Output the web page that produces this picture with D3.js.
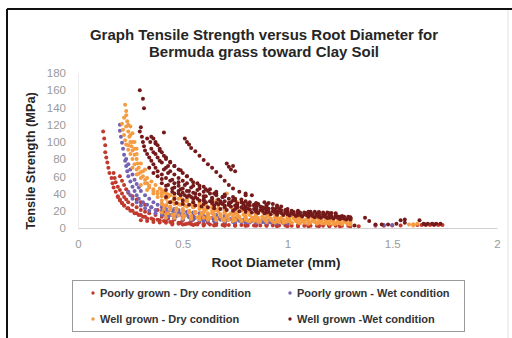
<!DOCTYPE html>
<html>
<head>
<meta charset="utf-8">
<script src="https://cdn.jsdelivr.net/npm/d3@7"></script>
<style>
  html, body { margin: 0; padding: 0; background: #fff; }
  svg { display: block; }
</style>
</head>
<body>
<svg id="chart" width="512" height="338"></svg>
<script>
// tick labels
var xTicks = [0, 0.5, 1, 1.5, 2];
var yTicks = [0, 20, 40, 60, 80, 100, 120, 140, 160, 180];

var seriesNames = [
  "Poorly grown - Dry condition",
  "Poorly grown - Wet condition",
  "Well grown - Dry condition",
  "Well grown -Wet condition"
];

// [root diameter (mm), tensile strength (MPa)]
var poorlyDry = [
  [0.12,112],[0.125,104],[0.13,96],[0.13,88],[0.135,82],[0.14,76],[0.145,70],[0.15,64],[0.16,58],[0.165,52],[0.17,47],[0.18,42],[0.19,37],[0.2,33],[0.21,29],[0.22,26],[0.235,23],[0.25,20],[0.27,17],[0.29,15],[0.31,13],[0.33,11],[0.36,10],[0.39,9],[0.42,8],[0.45,7],[0.49,6],[0.53,5.5],[0.57,5],
  [0.17,64],[0.175,58],[0.18,53],[0.19,48],[0.2,44],[0.21,40],[0.22,36],[0.23,33],[0.24,30],[0.26,27],[0.28,24],[0.3,21],[0.32,19],[0.34,17],[0.37,15],[0.4,13],[0.43,11],[0.46,10],[0.5,9],[0.54,8],[0.58,7],[0.62,6],[0.66,5.5],[0.7,5],
  [0.19,36],[0.2,32],[0.21,29],[0.22,26],[0.24,23],[0.26,20],[0.28,17],[0.3,15],[0.32,13],[0.35,11],[0.38,9.5],[0.41,8],[0.44,7],[0.48,6],[0.52,5],[0.56,4.5],[0.6,4],[0.65,3.5],[0.7,3.2],[0.75,3],[0.8,3],
  [0.2,60],[0.21,55],[0.22,50],[0.23,45],[0.24,41],[0.26,37],[0.28,33],[0.3,30],[0.32,27],[0.35,24],[0.38,21],[0.41,18],[0.45,15],[0.5,12],[0.55,10],[0.6,9],[0.65,8],[0.7,7],[0.75,6.5],[0.8,6],
  [0.3,9],[0.33,8],[0.36,7],[0.39,6.5],[0.42,6],[0.45,5.5],[0.48,5],[0.51,4.5],[0.54,4.5],[0.57,4],[0.6,4],[0.63,4],[0.66,3.5],[0.69,3.5],[0.72,3.5],[0.75,3.5],[0.78,3.5],[0.81,3],[0.84,3],[0.87,3],[0.9,3],[0.93,3],[0.96,3],[0.99,3],[1.02,2.5],[1.05,2.5],[1.08,2.5],[1.11,2.5],[1.14,2.5],[1.17,2.5],[1.2,2.5],[1.23,2.5],[1.26,2.5],[1.29,2.5],
  [0.45,4],[0.5,4],[0.55,3.5],[0.6,3],[0.65,3],[0.7,2.5],[0.75,2.5],[0.8,2.5],[0.85,2.5],[0.9,2.5],[0.95,2],[1.0,2],[1.05,2],[1.1,2],[1.15,2],[1.2,2],[1.25,2],[1.3,2],
  [0.85,4],[0.9,4],[0.95,3.5],[1.0,3.5],[1.05,3],[1.1,3],[1.15,3],[1.2,3],[1.25,3],[0.6,5],[0.7,4.5],[0.8,4.5],[0.9,5],[1.0,5],[1.1,4.5],[1.2,4],
  [1.34,2],[1.42,2.5],[1.46,2.5],[1.5,3],[1.54,3],[1.62,3.5],[1.64,3.5],[1.66,3.5],[1.68,3.5],[1.7,3.5],[1.72,3.5],[1.74,3.5],[1.65,4.5],[1.69,4.5],[1.73,4.5]
];

var poorlyWet = [
  [0.2,120],[0.2,113],[0.205,106],[0.21,99],[0.215,92],[0.22,85],[0.225,78],[0.23,72],[0.235,66],[0.24,60],[0.25,54],[0.26,48],[0.27,43],[0.28,38],[0.29,34],[0.31,30],[0.33,27],[0.35,24],[0.37,21],[0.4,18],[0.43,16],[0.46,14],[0.5,13],[0.55,12],[0.6,11],[0.65,10],[0.7,9.5],[0.75,9],[0.8,8.5],[0.85,8],[0.9,7.5],[0.95,7],[1.0,7],
  [0.23,80],[0.24,74],[0.25,68],[0.26,62],[0.27,56],[0.28,51],[0.29,47],[0.3,43],[0.32,38],[0.34,34],[0.36,30],[0.38,27],[0.4,24],[0.42,22],[0.45,20],[0.48,18],[0.5,17],[0.55,15],[0.6,14],[0.65,13],[0.7,12],[0.75,11],[0.8,10],[0.9,9],[1.0,8.5],
  [0.24,42],[0.25,38],[0.26,34],[0.28,30],[0.3,26],[0.32,23],[0.34,20],[0.37,17],[0.4,15],[0.43,13],[0.46,12],[0.5,11],[0.55,10],[0.6,9],[0.65,8],[0.7,7.5],[0.75,7],[0.8,6.5],[0.85,6],[0.9,6],[0.95,5.5],[1.0,5.5],
  [0.4,28],[0.42,26],[0.44,24],[0.46,22],[0.48,21],[0.5,20],[0.52,19],[0.55,18],[0.58,17],[0.62,16],[0.66,15],[0.7,14],[0.6,8],[0.62,9],[0.68,10],[0.72,10],[0.78,9],[0.82,8],[0.88,7],[0.92,6.5],
  [0.4,20],[0.43,18.5],[0.46,17],[0.49,16],[0.52,15],[0.55,14],[0.58,13],[0.61,12.5],[0.64,12],[0.67,11.5],[0.7,11],[0.73,10.5],[0.76,10],[0.79,9.5],[0.82,9],[0.85,9],[0.88,8.5],[0.91,8],[0.94,8],[0.97,7.5],[1.0,7.5],
  [0.42,12],[0.46,11],[0.5,10],[0.54,9.5],[0.58,9],[0.62,8.5],[0.66,8],[0.7,7.5],[0.74,7],[0.78,7],[0.82,6.5],[0.86,6.5],[0.9,6],[0.94,6],[0.98,5.5],
  [0.41,16],[0.44,15],[0.47,14],[0.5,13.5],[0.53,12.5],[0.56,12],[0.59,11.5],[0.62,11],[0.65,10.5],[0.68,10],[0.71,9.5],[0.74,9],[0.77,8.5],[0.8,8],[0.83,8],[0.86,7.5],[0.89,7],[0.92,7],[0.95,6.5],[0.98,6.5],
  [1.42,3.5],[1.46,3.5],[1.5,3.5]
];

var wellDry = [
  [0.225,143],[0.23,131],[0.235,124],[0.23,118],[0.24,112],[0.245,106],[0.25,100],[0.255,95],[0.26,90],[0.27,85],[0.28,80],[0.285,75],[0.29,70],[0.3,65],[0.31,60],[0.32,56],[0.33,52],[0.34,49],[0.36,45],[0.38,42],[0.4,39],[0.43,36],[0.46,33],[0.5,30],[0.54,27],[0.58,25],[0.62,23],[0.66,21],[0.7,20],[0.75,18],[0.8,17],[0.85,16],[0.9,15],[0.95,14],[1.0,13],[1.05,12],[1.1,11],[1.15,10.5],[1.2,10],[1.25,9.5],[1.3,9],
  [0.21,121],[0.215,114],[0.22,108],[0.225,102],[0.23,97],[0.24,91],[0.25,86],[0.26,80],[0.27,74],[0.28,68],[0.29,63],[0.3,58],[0.32,52],[0.34,47],[0.36,43],[0.38,40],[0.4,37],[0.42,34],[0.45,31],[0.48,28],[0.51,26],[0.55,24],[0.6,22],[0.65,20],[0.7,18],[0.75,17],[0.8,16],[0.85,15],[0.9,14],[0.95,13],[1.0,12],[1.1,11],[1.2,10],
  [0.39,46],[0.4,44],[0.41,42],[0.42,40],[0.44,38],[0.46,36],[0.48,34],[0.5,33],[0.52,31],[0.55,29],[0.58,27],[0.61,26],[0.64,24],[0.67,23],[0.7,22],[0.74,21],[0.78,20],[0.82,19],[0.86,18],[0.9,17],[0.94,16],[0.98,15],[1.02,14],[1.06,13],[1.1,12.5],[1.14,12],[1.18,11.5],[1.22,11],[1.26,10.5],[1.3,10],
  [0.4,28],[0.42,26],[0.44,25],[0.47,23],[0.5,22],[0.53,20],[0.56,19],[0.6,18],[0.64,17],[0.68,16],[0.72,15],[0.76,14],[0.8,13],[0.84,12.5],[0.88,12],[0.92,11],[0.96,10.5],[1.0,10],[1.04,9.5],[1.08,9],[1.12,8.5],[1.16,8],[1.2,7.5],[1.24,7],[1.28,7],[1.3,6.5],
  [0.4,18],[0.43,17],[0.46,16],[0.5,15],[0.54,14],[0.58,13],[0.62,12],[0.66,11],[0.7,10.5],[0.75,10],[0.8,9.5],[0.85,9],[0.9,8.5],[0.95,8],[1.0,7.5],[1.05,7],[1.1,6.5],[1.15,6],[1.2,6],[1.25,5.5],[1.3,5],
  [0.4,32],[0.43,30],[0.46,28],[0.49,27],[0.52,25],[0.55,24],[0.58,22],[0.61,21],[0.64,20],[0.67,19],[0.7,18],[0.73,17],[0.76,16],[0.79,15.5],[0.82,15],[0.85,14],[0.88,13.5],[0.91,13],[0.94,12.5],[0.97,12],[1.0,11.5],[1.03,11],[1.06,10.5],[1.09,10],[1.12,9.5],[1.15,9],[1.18,9],[1.21,8.5],[1.24,8],[1.27,8],[1.3,7.5],
  [0.41,22],[0.44,21],[0.47,20],[0.5,19],[0.53,18],[0.56,17],[0.59,16],[0.62,15],[0.65,14],[0.68,13.5],[0.71,13],[0.74,12],[0.77,11.5],[0.8,11],[0.83,10.5],[0.86,10],[0.89,10],[0.92,9.5],[0.95,9],[0.98,8.5],[1.01,8.5],[1.04,8],[1.07,8],[1.1,7.5],[1.13,7],[1.16,7],[1.19,6.5],[1.22,6.5],[1.25,6],[1.28,6],
  [0.42,12],[0.46,11.5],[0.5,11],[0.54,10.5],[0.58,10],[0.62,9.5],[0.66,9],[0.7,8.5],[0.74,8],[0.78,8],[0.82,7.5],[0.86,7],[0.9,7],[0.94,6.5],[0.98,6],[1.02,6],[1.06,5.5],[1.1,5],[1.14,5],[1.18,5],[1.22,4.5],[1.26,4.5],[1.3,4],
  [0.4,41],[0.43,39],[0.46,37],[0.49,35],[0.52,33],[0.55,31.5],[0.58,30],[0.61,28.5],[0.64,27],[0.67,26],[0.7,25],[0.73,24],[0.76,23],[0.79,22],[0.82,21],[0.85,20],[0.88,19],[0.91,18.5],[0.94,18],[0.97,17],[1.0,16.5],[1.03,16],[1.06,15],[1.09,14.5],[1.12,14],[1.15,13.5],[1.18,13],[1.21,12.5],[1.24,12],[1.27,11.5],[1.3,11],
  [0.41,26],[0.44,24],[0.47,22],[0.5,21],[0.53,19.5],[0.56,18.5],[0.59,17.5],[0.62,17],[0.65,16],[0.68,15],[0.71,14.5],[0.74,14],[0.77,13],[0.8,12.5],[0.83,12],[0.86,11.5],[0.89,11],[0.92,10.5],[0.95,10],[0.98,10],[1.01,9.5],[1.04,9],[1.07,9],[1.1,8.5],[1.13,8],[1.16,8],[1.19,7.5],[1.22,7.5],[1.25,7],[1.28,7],
  [0.42,16],[0.45,15],[0.48,14.5],[0.51,14],[0.54,13],[0.57,12.5],[0.6,12],[0.63,11.5],[0.66,11],[0.69,10],[0.72,9.5],[0.75,9],[0.78,9],[0.81,8.5],[0.84,8],[0.87,8],[0.9,7.5],[0.93,7.5],[0.96,7],[0.99,7],[1.02,6.5],[1.05,6.5],[1.08,6],[1.11,6],[1.14,5.5],[1.17,5.5],[1.2,5],[1.23,5],[1.26,5],[1.29,4.5],
  [0.22,128],[0.23,136],[0.24,120],[0.25,108],[0.26,100],[0.24,96],[0.27,92],[0.28,86],[0.26,70],[0.28,62],[0.31,66],[0.33,58],[0.35,54],[0.37,50],[0.3,50],[0.33,44],[0.36,40],[0.38,36],
  [0.26,110],[0.27,100],[0.28,92],[0.25,118],[0.3,75],[0.32,68],[0.71,40],[0.76,30],[0.66,32],[0.6,35],
  [1.58,4],[1.6,4.5],[1.62,5],[1.6,3]
];

var wellWet = [
  [0.295,160],[0.31,150],[0.315,139],[0.3,117],[0.295,112],[0.305,106],[0.31,100],[0.315,95],[0.32,90],[0.33,86],[0.34,82],[0.35,78],[0.36,74],[0.37,70],[0.38,66],[0.4,62],[0.42,58],[0.44,55],[0.46,52],[0.48,49],[0.5,46],[0.53,43],[0.56,40],[0.6,37],[0.64,34],[0.68,31],[0.72,29],[0.76,27],[0.8,25],[0.85,23],[0.9,21],[0.95,19],[1.0,18],[1.05,17],[1.1,16],[1.15,15],[1.2,14],[1.25,13],[1.3,12],
  [0.33,104],[0.345,100],[0.36,104],[0.37,100],[0.38,96],[0.39,92],[0.4,88],[0.41,84],[0.42,80],[0.44,76],[0.46,72],[0.48,68],[0.5,64],[0.52,60],[0.54,56],[0.57,52],[0.6,48],[0.63,45],[0.66,42],[0.7,39],[0.74,36],[0.78,33],[0.82,30],[0.86,28],[0.9,26],[0.95,24],[1.0,22],[1.05,20],[1.1,19],[1.15,18],[1.2,17],
  [0.41,111],[0.51,104],[0.52,100],[0.53,97],[0.54,93],[0.56,89],[0.58,84],[0.6,79],[0.62,74],[0.64,70],[0.66,65],[0.68,60],[0.7,55],[0.72,50],[0.74,46],[0.77,42],[0.8,38],
  [0.35,106],[0.37,98],[0.39,90],[0.42,82],[0.44,77],[0.46,72],[0.49,67],[0.52,60],[0.55,53],[0.58,49],[0.61,45],[0.65,40],[0.69,36],[0.74,32],[0.79,29],[0.84,26],[0.89,23],[0.94,21],[0.99,19],
  [0.4,52],[0.42,49],[0.45,46],[0.48,43],[0.5,41],[0.53,38],[0.56,36],[0.6,33],[0.64,31],[0.68,29],[0.72,27],[0.76,25],[0.8,23],[0.85,21],[0.9,20],[0.95,18],[1.0,17],[1.05,16],[1.1,15],[1.15,14],[1.2,13],[1.25,12],[1.3,11],
  [0.42,36],[0.46,34],[0.5,32],[0.55,30],[0.6,28],[0.65,26],[0.7,24],[0.75,22],[0.8,21],[0.85,19],[0.9,18],[0.95,17],[1.0,16],[1.05,15],[1.1,14],[1.15,13],[1.2,12],[1.25,11],[1.3,10],
  [0.42,44],[0.45,42],[0.48,40],[0.51,38],[0.54,36],[0.57,34],[0.6,32],[0.63,31],[0.66,29],[0.69,28],[0.72,27],[0.75,26],[0.78,24],[0.81,23],[0.84,22],[0.87,21],[0.9,20],[0.93,19.5],[0.96,19],[0.99,18],[1.02,17.5],[1.05,17],[1.08,16],[1.11,15.5],[1.14,15],[1.17,14],[1.2,13.5],[1.23,13],[1.26,12],[1.29,11.5],
  [0.45,56],[0.48,53],[0.51,50],[0.54,47],[0.57,44],[0.6,42],[0.63,40],[0.66,38],[0.69,36],[0.72,34],[0.75,32],[0.78,30],[0.81,28],[0.84,27],[0.87,25],[0.9,24],[0.93,23],[0.96,22],[0.99,21],[1.02,20],[1.05,19],[1.08,18],[1.11,17],[1.14,16.5],[1.17,16],[1.2,15],[1.23,14.5],[1.26,14],[1.29,13],
  [0.44,30],[0.47,29],[0.5,28],[0.53,27],[0.56,26],[0.59,25],[0.62,24],[0.65,23],[0.68,22],[0.71,21],[0.74,20],[0.77,19.5],[0.8,19],[0.83,18],[0.86,17.5],[0.89,17],[0.92,16],[0.95,15.5],[0.98,15],[1.01,14.5],[1.04,14],[1.07,13.5],[1.1,13],[1.13,12.5],[1.16,12],[1.19,11.5],[1.22,11],[1.25,10.5],[1.28,10],
  [0.43,50],[0.46,47],[0.49,45],[0.52,43],[0.55,41],[0.58,39],[0.61,37],[0.64,35],[0.67,33],[0.7,31],[0.73,30],[0.76,28.5],[0.79,27],[0.82,26],[0.85,25],[0.88,24],[0.91,22.5],[0.94,21.5],[0.97,20.5],[1.0,19.5],[1.03,18.5],[1.06,18],[1.09,17],[1.12,16],[1.15,15.5],[1.18,15],[1.21,14],[1.24,13.5],[1.27,13],[1.3,12.5],
  [0.46,40],[0.49,38],[0.52,36],[0.55,34],[0.58,32],[0.61,30],[0.64,29],[0.67,27.5],[0.7,26],[0.73,25],[0.76,24],[0.79,22.5],[0.82,21.5],[0.85,20.5],[0.88,20],[0.91,19],[0.94,18],[0.97,17.5],[1.0,17],[1.03,16],[1.06,15.5],[1.09,15],[1.12,14],[1.15,13.5],[1.18,13],[1.21,12.5],[1.24,12],[1.27,11],[1.3,10.5],
  [0.36,88],[0.38,82],[0.4,76],[0.42,70],[0.44,66],[0.46,62],[0.48,58],[0.5,55],[0.52,52],[0.55,49],[0.58,46],[0.62,43],[0.66,40],[0.7,37],[0.75,34],[0.8,31],[0.85,29],[0.9,27],
  [0.38,60],[0.4,57],[0.41,68],[0.43,64],[0.36,64],[0.34,70],[0.35,92],[0.37,86],[0.39,78],[0.43,72],
  [0.71,75],[0.72,71],[0.74,72],[0.73,68],[0.75,66],[0.8,40],[0.83,38],[0.89,30],[0.91,29],[0.93,28],[0.95,26],[0.97,25],[1.11,19],[1.13,19],[1.15,18.5],[1.17,18],[1.19,18],[1.21,17.5],[1.23,17],
  [1.32,3],[1.37,12],[1.39,8],[1.42,4],[1.45,4],[1.48,4],[1.52,5],[1.54,9],[1.56,10],[1.56,6],[1.63,9],[1.65,5],[1.67,5],[1.69,5],[1.71,5],[1.73,5],[1.66,4],[1.7,4]
];

var colors = ["#C23A2E", "#7462B3", "#F59B42", "#741A1A"];
var allSeries = [poorlyDry, poorlyWet, wellDry, wellWet];

var svg = d3.select("#chart");
var W = +svg.attr("width"), H = +svg.attr("height");

// frame
svg.append("line").attr("x1", 7).attr("x2", W).attr("y1", 9).attr("y2", 9)
  .attr("stroke", "#111").attr("stroke-width", 2);
svg.append("line").attr("x1", 7).attr("x2", 7).attr("y1", 9).attr("y2", H)
  .attr("stroke", "#111").attr("stroke-width", 2);
svg.append("line").attr("x1", 508).attr("x2", 508).attr("y1", 10).attr("y2", H)
  .attr("stroke", "#e2e2e2").attr("stroke-width", 1);

var x = d3.scaleLinear().domain([0, 2]).range([78, 497]);
var y = d3.scaleLinear().domain([0, 180]).range([228, 73]);

var font = "Liberation Sans, Arial, sans-serif";

// title
var title = svg.append("text")
  .attr("text-anchor", "middle")
  .attr("font-family", font)
  .attr("font-weight", "bold")
  .attr("font-size", 15)
  .attr("fill", "#262626");
title.append("tspan").attr("x", 264).attr("y", 40).text("Graph Tensile Strength versus Root Diameter for");
title.append("tspan").attr("x", 264).attr("y", 57).text("Bermuda grass toward Clay Soil");

// axes
var yAxis = svg.append("g")
  .attr("transform", "translate(" + x(0) + ",0)")
  .call(d3.axisLeft(y).tickValues(yTicks).tickSize(0).tickPadding(12));
yAxis.select(".domain").attr("stroke", "#ececec");

var xAxis = svg.append("g")
  .attr("transform", "translate(0," + y(0) + ")")
  .call(d3.axisBottom(x).tickValues(xTicks).tickSize(0).tickPadding(12).tickFormat(d3.format("")));
xAxis.select(".domain").attr("stroke", "#d0d0d0");

svg.selectAll(".tick text")
  .attr("font-family", font)
  .attr("font-size", 11.5)
  .attr("fill", "#9a9a9a");

// axis titles
svg.append("text")
  .attr("x", 276).attr("y", 267)
  .attr("text-anchor", "middle")
  .attr("font-family", font)
  .attr("font-weight", "bold").attr("font-size", 13.5)
  .attr("fill", "#262626")
  .text("Root Diameter (mm)");

svg.append("text")
  .attr("transform", "translate(35,161) rotate(-90)")
  .attr("text-anchor", "middle")
  .attr("font-family", font)
  .attr("font-weight", "bold").attr("font-size", 12.8)
  .attr("fill", "#262626")
  .text("Tensile Strength (MPa)");

// points
var plot = svg.append("g");
allSeries.forEach(function (data, i) {
  plot.append("g")
    .selectAll("circle")
    .data(data)
    .enter().append("circle")
    .attr("cx", function (d) { return x(d[0]); })
    .attr("cy", function (d) { return y(d[1]); })
    .attr("r", 2)
    .attr("fill", colors[i]);
});

// legend
svg.append("rect")
  .attr("x", 72.5).attr("y", 280.5).attr("width", 392).attr("height", 51)
  .attr("fill", "none").attr("stroke", "#9a9a9a");

var legendPos = [[93, 293], [290, 293], [93, 319], [290, 319]];
var legend = svg.append("g")
  .selectAll("g")
  .data(seriesNames)
  .enter().append("g")
  .attr("transform", function (d, i) { return "translate(" + legendPos[i][0] + "," + legendPos[i][1] + ")"; });

legend.append("circle")
  .attr("r", 1.7)
  .attr("fill", function (d, i) { return colors[i]; });

legend.append("text")
  .attr("x", 7)
  .attr("dy", "0.35em")
  .attr("font-family", font)
  .attr("font-weight", "bold").attr("font-size", 11)
  .attr("fill", "#333")
  .text(function (d) { return d; });
</script>
</body>
</html>
